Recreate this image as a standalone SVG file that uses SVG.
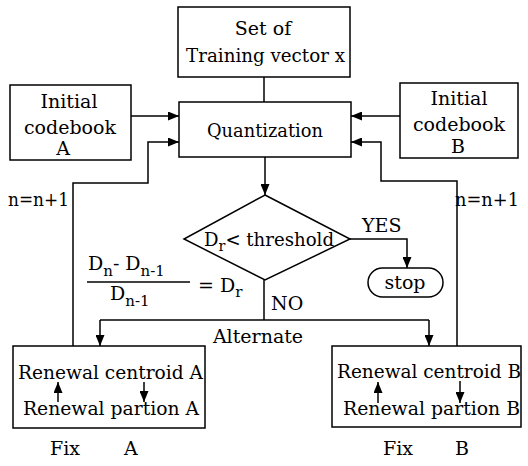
<svg xmlns="http://www.w3.org/2000/svg" width="528" height="466" viewBox="0 0 528 466">
<defs>
<marker id="ah" markerWidth="11" markerHeight="9" refX="11" refY="4.5" orient="auto" markerUnits="userSpaceOnUse">
<path d="M0,0 L11,4.5 L0,9 Z" fill="#000"/>
</marker>
<style>
.b{fill:#fff;stroke:#000;stroke-width:1.5}
.l{fill:none;stroke:#000;stroke-width:1.5}
.t{font-family:"DejaVu Serif","Liberation Serif",serif;font-size:19px;fill:#000}
.s{font-size:15px}
</style>
</defs>
<rect width="528" height="466" fill="#fff"/>
<g id="training">
<rect class="b" x="178" y="7" width="172" height="70"/>
<text class="t" x="263" y="35" text-anchor="middle">Set of</text>
<text class="t" x="186" y="62" textLength="159" lengthAdjust="spacingAndGlyphs">Training vector x</text>
</g>
<g id="quantization">
<rect class="b" x="179" y="102" width="172" height="55"/>
<text class="t" x="207" y="137" textLength="116" lengthAdjust="spacingAndGlyphs">Quantization</text>
</g>
<g id="initA">
<rect class="b" x="10" y="85" width="121" height="75"/>
<text class="t" x="69" y="108" text-anchor="middle">Initial</text>
<text class="t" x="70" y="134" text-anchor="middle">codebook</text>
<text class="t" x="63" y="155" text-anchor="middle">A</text>
</g>
<g id="initB">
<rect class="b" x="400" y="83" width="118" height="75"/>
<text class="t" x="459" y="105" text-anchor="middle">Initial</text>
<text class="t" x="459" y="131" text-anchor="middle">codebook</text>
<text class="t" x="458" y="153" text-anchor="middle">B</text>
</g>
<g id="decision">
<path class="b" d="M265,195 L350,239 L265,280 L184,239 Z"/>
<text class="t" x="204" y="246" textLength="130" lengthAdjust="spacingAndGlyphs">D<tspan class="s" dy="5">r</tspan><tspan dy="-5">&lt; threshold</tspan></text>
</g>
<g id="stop">
<rect class="b" x="368" y="268" width="75" height="29" rx="14.5"/>
<text class="t" x="405" y="289" text-anchor="middle">stop</text>
</g>
<g id="renewalA">
<rect class="b" x="13" y="346" width="192" height="82"/>
<text class="t" x="18" y="379" textLength="185" lengthAdjust="spacingAndGlyphs">Renewal centroid A</text>
<text class="t" x="23" y="415" textLength="176" lengthAdjust="spacingAndGlyphs">Renewal partion A</text>
<line class="l" x1="58" y1="402" x2="58" y2="382" marker-end="url(#ah)"/>
<line class="l" x1="144" y1="382" x2="144" y2="402" marker-end="url(#ah)"/>
</g>
<g id="renewalB">
<rect class="b" x="332" y="346" width="189" height="81"/>
<text class="t" x="337" y="378" textLength="184" lengthAdjust="spacingAndGlyphs">Renewal centroid B</text>
<text class="t" x="343" y="415" textLength="177" lengthAdjust="spacingAndGlyphs">Renewal partion B</text>
<line class="l" x1="378" y1="403" x2="378" y2="382" marker-end="url(#ah)"/>
<line class="l" x1="460" y1="381" x2="460" y2="403" marker-end="url(#ah)"/>
</g>
<g id="connectors">
<line class="l" x1="264" y1="77" x2="264" y2="102"/>
<line class="l" x1="131" y1="116" x2="179" y2="116" marker-end="url(#ah)"/>
<line class="l" x1="400" y1="116" x2="351" y2="116" marker-end="url(#ah)"/>
<polyline class="l" points="73,346 73,183 148,183 148,142 179,142" marker-end="url(#ah)"/>
<polyline class="l" points="457,346 457,181 381,181 381,142 351,142" marker-end="url(#ah)"/>
<line class="l" x1="265" y1="157" x2="265" y2="195" marker-end="url(#ah)"/>
<polyline class="l" points="350,239 407,239 407,268" marker-end="url(#ah)"/>
<line class="l" x1="264" y1="280" x2="264" y2="320"/>
<line class="l" x1="100" y1="320" x2="429" y2="320"/>
<line class="l" x1="100" y1="320" x2="100" y2="346" marker-end="url(#ah)"/>
<line class="l" x1="429" y1="320" x2="429" y2="346" marker-end="url(#ah)"/>
</g>
<g id="labels">
<text class="t" x="8" y="206" textLength="61" lengthAdjust="spacingAndGlyphs">n=n+1</text>
<text class="t" x="455" y="206" textLength="64" lengthAdjust="spacingAndGlyphs">n=n+1</text>
<text class="t" x="362" y="232">YES</text>
<text class="t" x="271" y="310">NO</text>
<text class="t" x="258" y="343" text-anchor="middle">Alternate</text>
<text class="t" x="88" y="270">D<tspan class="s" dy="6">n</tspan><tspan dy="-6">- D</tspan><tspan class="s" dy="6">n-1</tspan></text>
<line class="l" x1="87" y1="282" x2="190" y2="282"/>
<text class="t" x="110" y="300">D<tspan class="s" dy="6">n-1</tspan></text>
<text class="t" x="198" y="292">= D<tspan class="s" dy="5">r</tspan></text>
<text class="t" x="50" y="455">Fix</text>
<text class="t" x="124" y="455">A</text>
<text class="t" x="383" y="455">Fix</text>
<text class="t" x="455" y="455">B</text>
</g>
</svg>
